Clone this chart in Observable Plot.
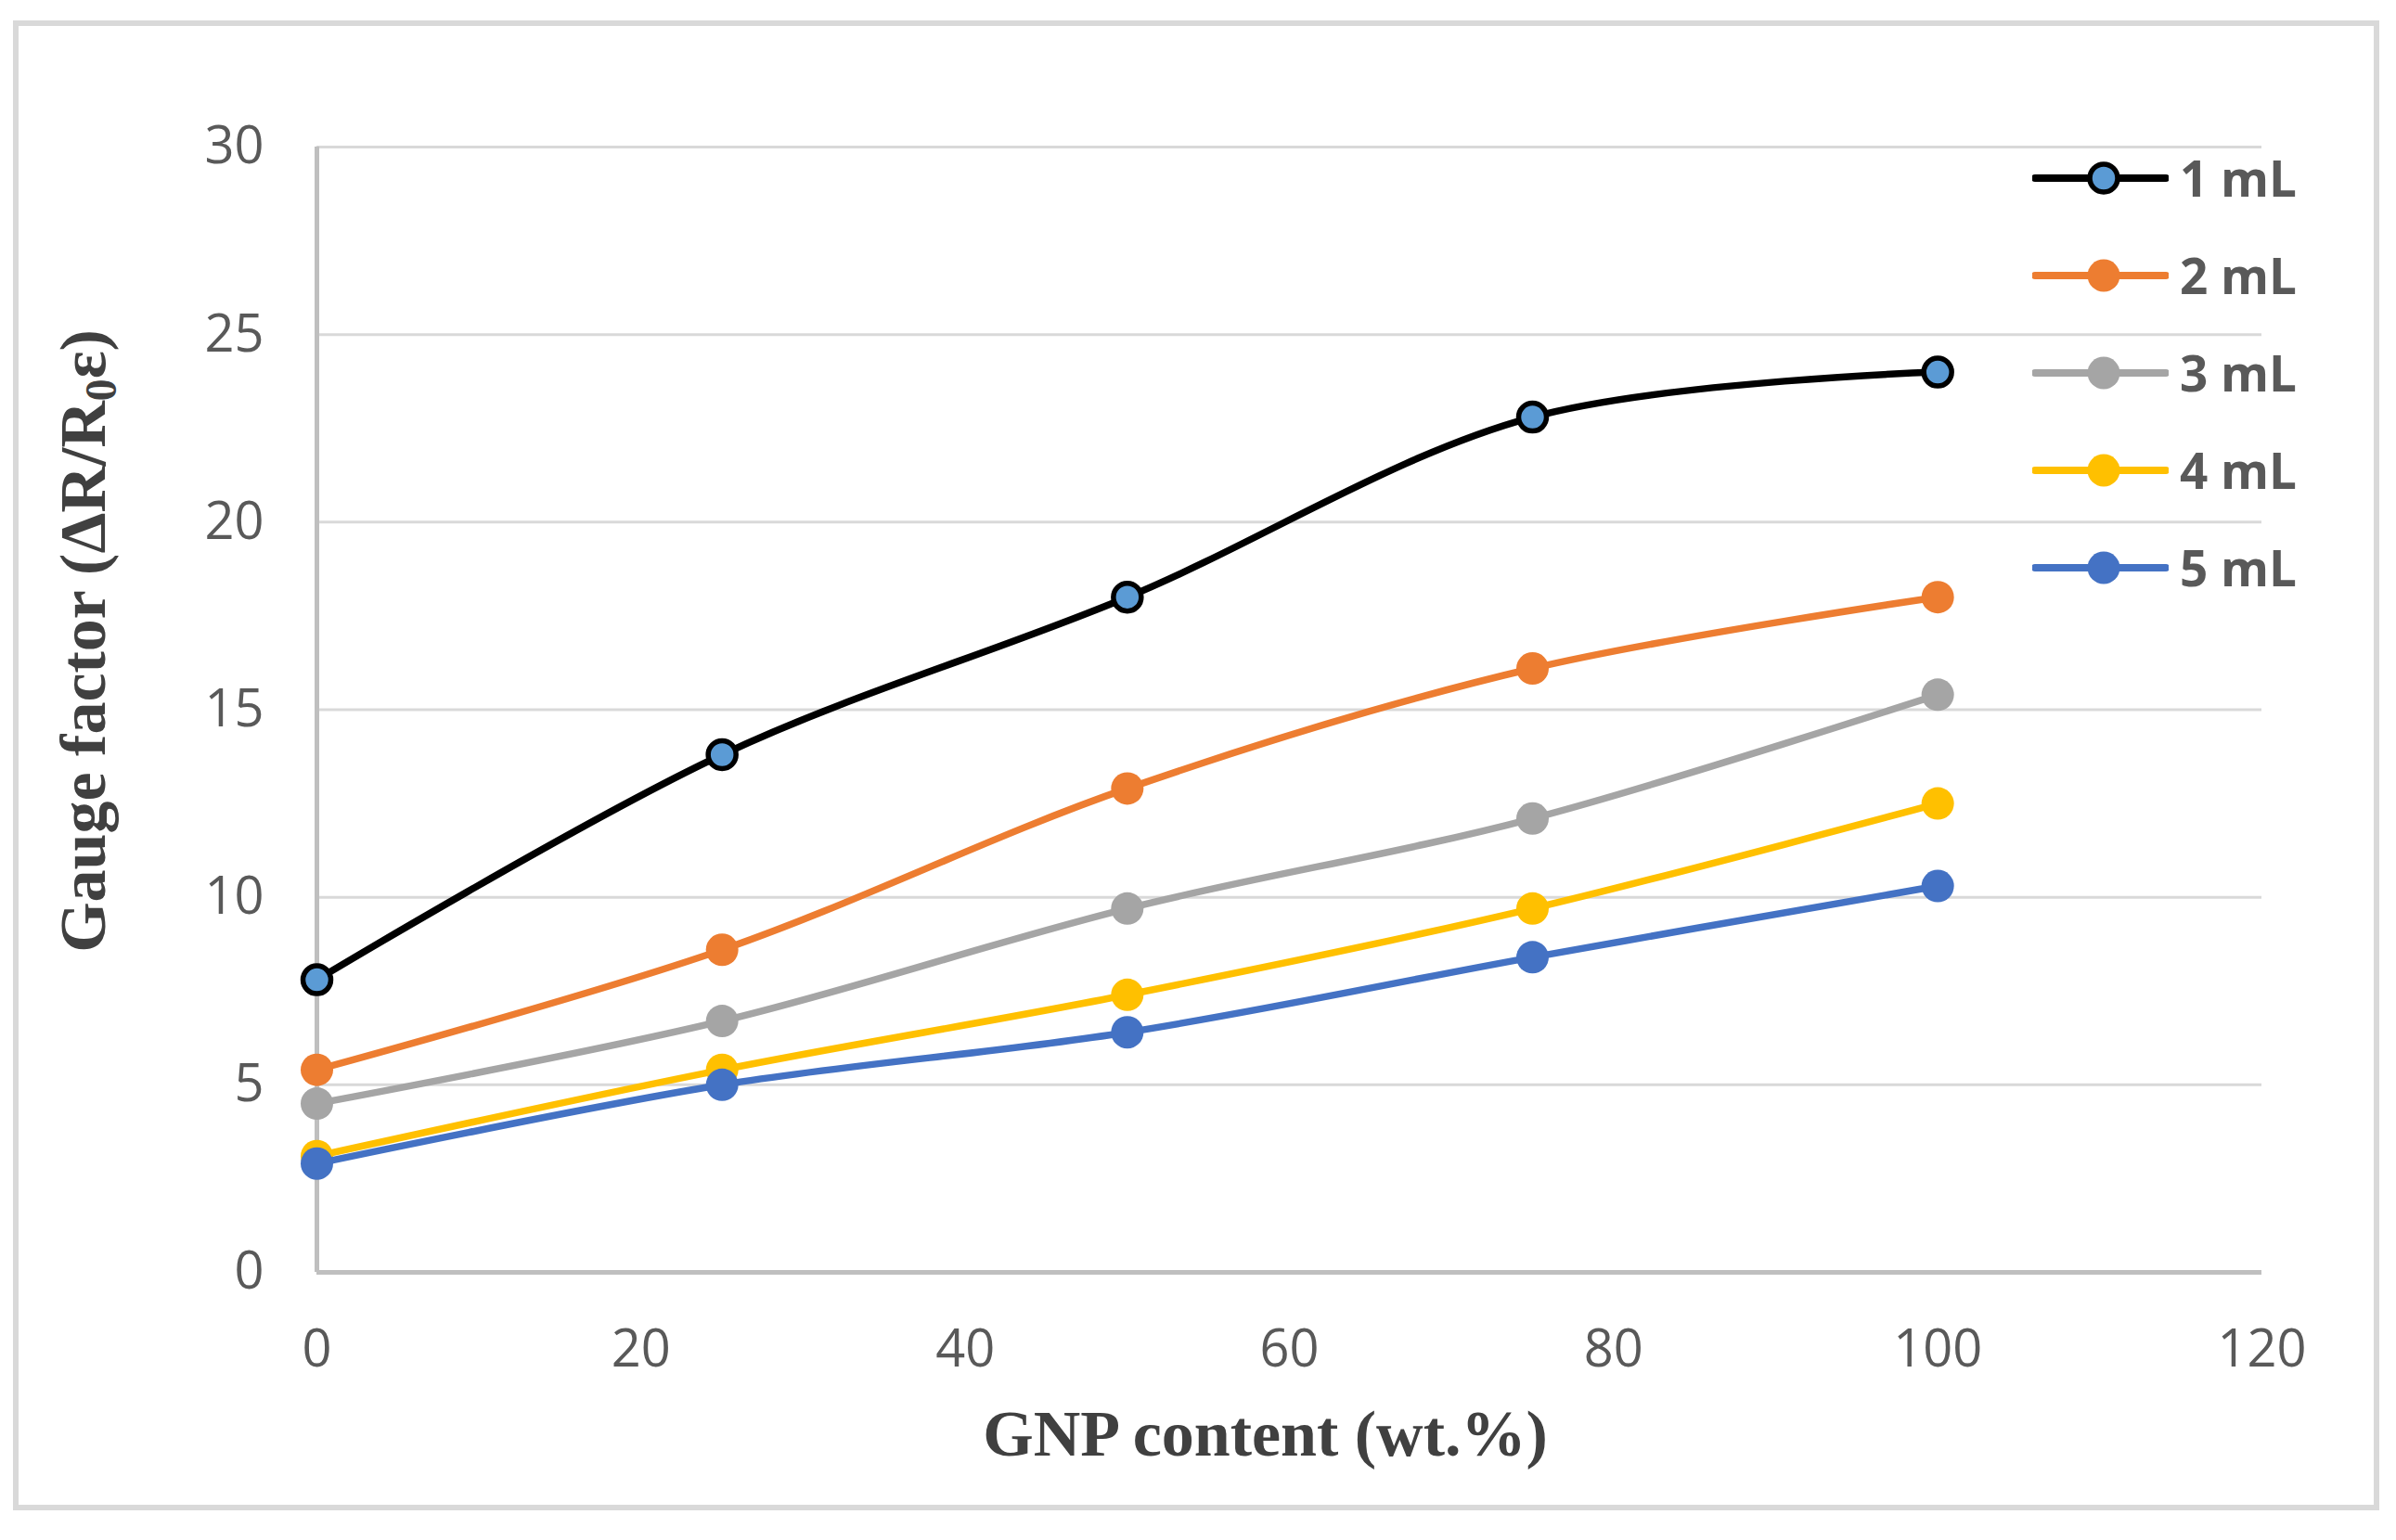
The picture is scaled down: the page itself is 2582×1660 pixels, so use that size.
<!DOCTYPE html>
<html><head><meta charset="utf-8">
<script src="https://cdn.jsdelivr.net/npm/d3@7"></script>
<script src="https://cdn.jsdelivr.net/npm/@observablehq/plot@0.6"></script>
<style>
html,body{margin:0;padding:0;background:#fff;}
#wrap{position:relative;width:2582px;height:1660px;overflow:hidden;background:#fff;}
#frame{position:absolute;left:14px;top:22px;width:2550px;height:1606px;border:6px solid #d9d9d9;box-sizing:border-box;pointer-events:none;}
#chart{position:absolute;left:0;top:0;}
#legend{position:absolute;left:2190px;top:139px;font-family:"Open Sans";font-weight:700;font-size:53px;color:#595959;}
.item{display:flex;align-items:center;height:105px;}
.item span{margin-left:12px;}
</style></head>
<body>
<div id="wrap"><div id="chart"></div><div id="legend"></div><div id="frame"></div></div>
<script>
const xValues = [0, 25, 50, 75, 100];
const seriesNames = ["1 mL", "2 mL", "3 mL", "4 mL", "5 mL"];
const gf1mL = [7.8, 13.8, 18.0, 22.8, 24.0];
const gf2mL = [5.4, 8.6, 12.9, 16.1, 18.0];
const gf3mL = [4.5, 6.7, 9.7, 12.1, 15.4];
const gf4mL = [3.1, 5.4, 7.4, 9.7, 12.5];
const gf5mL = [2.9, 5.0, 6.4, 8.4, 10.3];
const lineColors = ["#000000", "#ED7D31", "#A5A5A5", "#FFC000", "#4472C4"];
const markerFills = ["#5B9BD5", "#ED7D31", "#A5A5A5", "#FFC000", "#4472C4"];
const markerStrokes = ["#000000", "none", "none", "none", "none"];
const yTicks = [0, 5, 10, 15, 20, 25, 30];
const xTicks = [0, 20, 40, 60, 80, 100, 120];
const yTitle = "Gauge factor (ΔR/R₀ε)";
const xTitle = "GNP content (wt.%)";

const allSeries = [gf1mL, gf2mL, gf3mL, gf4mL, gf5mL];
const rows = seriesNames.map((s, i) => xValues.map((x, j) => ({series: s, x, y: allSeries[i][j]})));

const seriesMarks = rows.flatMap((data, i) => [
  Plot.line(data, {x: "x", y: "y", stroke: lineColors[i], strokeWidth: 7.5, curve: "catmull-rom"}),
  Plot.dot(data, {x: "x", y: "y", r: i === 0 ? 15 : 17.5, fill: markerFills[i], stroke: markerStrokes[i], strokeWidth: 5.5})
]);

const chart = Plot.plot({
  width: 2582, height: 1660,
  marginLeft: 341, marginRight: 145, marginTop: 158, marginBottom: 289,
  x: {domain: [0, 120]},
  y: {domain: [0, 30]},
  style: {background: "transparent", fontFamily: "Open Sans", overflow: "visible"},
  marks: [
    Plot.gridY(yTicks, {stroke: "#d9d9d9", strokeOpacity: 1, strokeWidth: 3}),
    Plot.ruleX([0], {stroke: "#bfbfbf", strokeWidth: 5}),
    Plot.ruleY([0], {stroke: "#bfbfbf", strokeWidth: 5}),
    Plot.axisY(yTicks, {tickSize: 0, tickPadding: 57, fontSize: 56, fill: "#595959", label: yTitle, labelAnchor: "center", labelArrow: "none", labelOffset: 278}),
    Plot.axisX(xTicks, {tickSize: 0, tickPadding: 62, fontSize: 56, fill: "#595959", label: xTitle, labelAnchor: "center", labelArrow: "none", labelOffset: 197}),
    ...seriesMarks
  ]
});
document.getElementById("chart").appendChild(chart);

// style axis titles
const svg = d3.select(chart);
svg.selectAll('g[aria-label="y-axis label"], g[aria-label="x-axis label"]')
  .attr("font-family", "Liberation Serif")
  .attr("font-weight", "bold")
  .attr("font-size", 70)
  .attr("fill", "#404040");
svg.select('g[aria-label="y-axis label"]').attr("transform", function() {
  const t = d3.select(this).attr("transform") || "";
  return t + " translate(0,-74)";
});
svg.select('g[aria-label="x-axis label"]').attr("transform", function() {
  const t = d3.select(this).attr("transform") || "";
  return t + " translate(-26,0)";
});
// subscript 0 in y title
const yt = svg.select('g[aria-label="y-axis label"] text');
if (!yt.empty()) {
  yt.text(null);
  yt.append("tspan").text("Gauge factor (ΔR/R");
  yt.append("tspan").attr("font-size", "0.68em").attr("dy", "12").text("0");
  yt.append("tspan").attr("dy", "-12").text("ε)");
}

// legend
const legend = d3.select("#legend");
seriesNames.forEach((name, i) => {
  const item = legend.append("div").attr("class", "item");
  const s = item.append("svg").attr("width", 147).attr("height", 42);
  s.append("line").attr("x1", 3).attr("x2", 144).attr("y1", 21).attr("y2", 21)
    .attr("stroke", lineColors[i]).attr("stroke-width", 8).attr("stroke-linecap", "round");
  s.append("circle").attr("cx", 77).attr("cy", 21).attr("r", i === 0 ? 15 : 17.5)
    .attr("fill", markerFills[i]).attr("stroke", markerStrokes[i]).attr("stroke-width", 5.5);
  item.append("span").text(name);
});
</script>
</body></html>
